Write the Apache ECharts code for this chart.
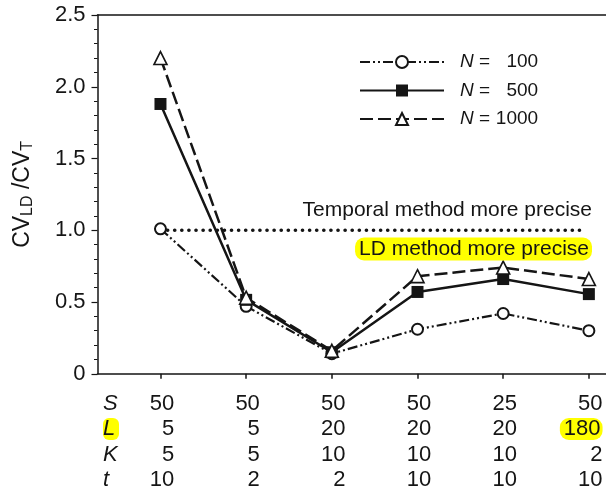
<!DOCTYPE html>
<html><head><meta charset="utf-8">
<script src="https://cdn.jsdelivr.net/npm/echarts@6/dist/echarts.min.js"></script>
<style>html,body{margin:0;padding:0;background:#fff}#c{width:606px;height:491px}</style>
</head><body><div id="c"></div>
<script>
// ---- data ----
const xPos = [0, 1, 2, 3, 4, 5];
const n100 = [1.01, 0.47, 0.14, 0.31, 0.42, 0.30];
const n500 = [1.88, 0.515, 0.15, 0.57, 0.66, 0.555];
const n1000 = [2.20, 0.53, 0.16, 0.68, 0.74, 0.66];
const seriesNames = ['100', '500', '1000'];
const refX = [0, 4.96];
const refY = [1.0, 1.0];
const rowNames = ['S', 'L', 'K', 't'];
const rowS = [50, 50, 50, 50, 25, 50];
const rowL = [5, 5, 20, 20, 20, 180];
const rowK = [5, 5, 10, 10, 10, 2];
const rowT = [10, 2, 2, 10, 10, 10];
const highlightRow = 'L';
const highlightCol = 5;
const yTicks = [0, 0.5, 1.0, 1.5, 2.0, 2.5];
const textTemporal = 'Temporal method more precise';
const textLD = 'LD method more precise';

// ---- chart ----
const FONT = '"Liberation Sans", Arial, Helvetica, sans-serif';
const INK = '#151515';
const YEL = '#ffff00';
const chart = echarts.init(document.getElementById('c'), null, {renderer: 'canvas'});

const labelShift = 0.16;
const headerPos = -0.484;
const labelValues = [headerPos].concat(xPos.map(x => x + labelShift));

function colLabel(v) {
  if (v < 0) {
    return rowNames.map(r => (r === highlightRow ? '{hl|' : '{hd|') + r + '}').join('\n');
  }
  const i = Math.round(v - labelShift);
  const rows = [rowS[i], rowL[i], rowK[i], rowT[i]];
  return rows.map((val, r) => {
    const hl = rowNames[r] === highlightRow && i === highlightCol;
    return (hl ? '{y|' : '{v|') + val + '}';
  }).join('\n');
}

const tokenBase = {fontSize: 22, lineHeight: 25.5, color: INK, fontFamily: FONT};

const pairs = arr => xPos.map((x, i) => [x, arr[i]]);

const option = {
  animation: false,
  backgroundColor: '#fff',
  grid: {left: 97.5, right: 0, top: 15, bottom: 117, containLabel: false},
  legend: {
    data: seriesNames,
    orient: 'vertical',
    left: 354,
    top: 47.5,
    itemWidth: 84,
    itemHeight: 15,
    itemGap: 9.5,
    selectedMode: false,
    formatter: name => '{n|N}{e| =}{v|' + name + '}',
    textStyle: {
      fontFamily: FONT, fontSize: 19, color: INK, lineHeight: 15,
      rich: {
        n: {fontStyle: 'italic', fontSize: 19, fontFamily: FONT, color: INK, padding: [0, 0, 0, 11], lineHeight: 15},
        e: {fontSize: 19, fontFamily: FONT, color: INK, lineHeight: 15},
        v: {fontSize: 19, fontFamily: FONT, color: INK, width: 48, align: 'right', lineHeight: 15}
      }
    }
  },
  xAxis: [{
    type: 'value',
    min: -0.735,
    max: 5.2,
    axisLine: {show: true, onZero: false, lineStyle: {color: INK, width: 1.5}},
    axisTick: {show: true, customValues: xPos, length: 5, inside: false, lineStyle: {color: INK, width: 1.5}},
    splitLine: {show: false},
    axisLabel: {
      customValues: labelValues,
      formatter: colLabel,
      align: 'right',
      verticalAlign: 'top',
      margin: 17,
      hideOverlap: false,
      showMinLabel: true,
      showMaxLabel: true,
      rich: {
        v: tokenBase,
        y: Object.assign({}, tokenBase, {backgroundColor: YEL, borderRadius: 9, padding: [0, 2, 0, 4]}),
        hd: Object.assign({}, tokenBase, {fontStyle: 'italic', width: 16, align: 'left'}),
        hl: Object.assign({}, tokenBase, {fontStyle: 'italic', width: 16, align: 'left', backgroundColor: YEL, borderRadius: 6})
      }
    }
  }, {
    type: 'value',
    position: 'top',
    min: -0.735,
    max: 5.2,
    axisLine: {show: true, onZero: false, lineStyle: {color: INK, width: 1.5}},
    axisTick: {show: false},
    axisLabel: {show: false},
    splitLine: {show: false}
  }],
  yAxis: {
    type: 'value',
    min: yTicks[0],
    max: yTicks[yTicks.length - 1],
    interval: 0.5,
    axisLine: {show: true, onZero: false, lineStyle: {color: INK, width: 1.5}},
    axisTick: {show: true, length: 6, inside: false, lineStyle: {color: INK, width: 1.2}},
    minorTick: {show: true, splitNumber: 5, length: 3.5, lineStyle: {color: INK, width: 1}},
    splitLine: {show: false},
    minorSplitLine: {show: false},
    axisLabel: {
      fontSize: 22, fontFamily: FONT, color: INK, margin: 12,
      formatter: v => (v === 0 ? '0' : v.toFixed(1))
    },
    name: '{a|CV}{s|LD}{a| /CV}{s|T}',
    nameLocation: 'middle',
    nameGap: 62,
    nameTextStyle: {
      fontFamily: FONT, color: INK, padding: [0, 0, 0, 0],
      rich: {
        a: {fontSize: 23, fontFamily: FONT, color: INK},
        s: {fontSize: 16, fontFamily: FONT, color: INK, padding: [9, 0, 0, 0]}
      }
    }
  },
  series: [
    {
      name: 'ref',
      type: 'line',
      data: refX.map((x, i) => [x, refY[i]]),
      symbol: 'none',
      silent: true,
      lineStyle: {color: INK, width: 3.6, type: [0.1, 7], cap: 'round'},
      z: 1
    },
    {
      name: seriesNames[0],
      type: 'line',
      data: pairs(n100),
      symbol: 'circle',
      symbolSize: 11,
      itemStyle: {color: '#fff', borderColor: INK, borderWidth: 2},
      lineStyle: {color: INK, width: 2.2, type: [10, 3, 2, 3, 2, 3]},
      z: 2
    },
    {
      name: seriesNames[1],
      type: 'line',
      data: pairs(n500),
      symbol: 'rect',
      symbolSize: 12,
      itemStyle: {color: INK, borderColor: INK, borderWidth: 0},
      lineStyle: {color: INK, width: 2.5, type: 'solid'},
      z: 3
    },
    {
      name: seriesNames[2],
      type: 'line',
      data: pairs(n1000),
      symbol: 'triangle',
      symbolSize: 13,
      itemStyle: {color: '#fff', borderColor: INK, borderWidth: 1.6},
      lineStyle: {color: INK, width: 2.5, type: [13, 5]},
      z: 4
    }
  ],
  graphic: [
    {
      type: 'text', z: 10,
      style: {text: textTemporal, x: 592, y: 210, align: 'right', verticalAlign: 'middle',
        font: '21px ' + FONT, fill: INK}
    },
    {
      type: 'text', z: 10,
      style: {text: textLD, x: 592, y: 249, align: 'right', verticalAlign: 'middle',
        font: '21px ' + FONT, fill: INK, backgroundColor: YEL, padding: [1, 3, 1, 4], borderRadius: 9}
    }
  ]
};
chart.setOption(option);
</script>
</body></html>
